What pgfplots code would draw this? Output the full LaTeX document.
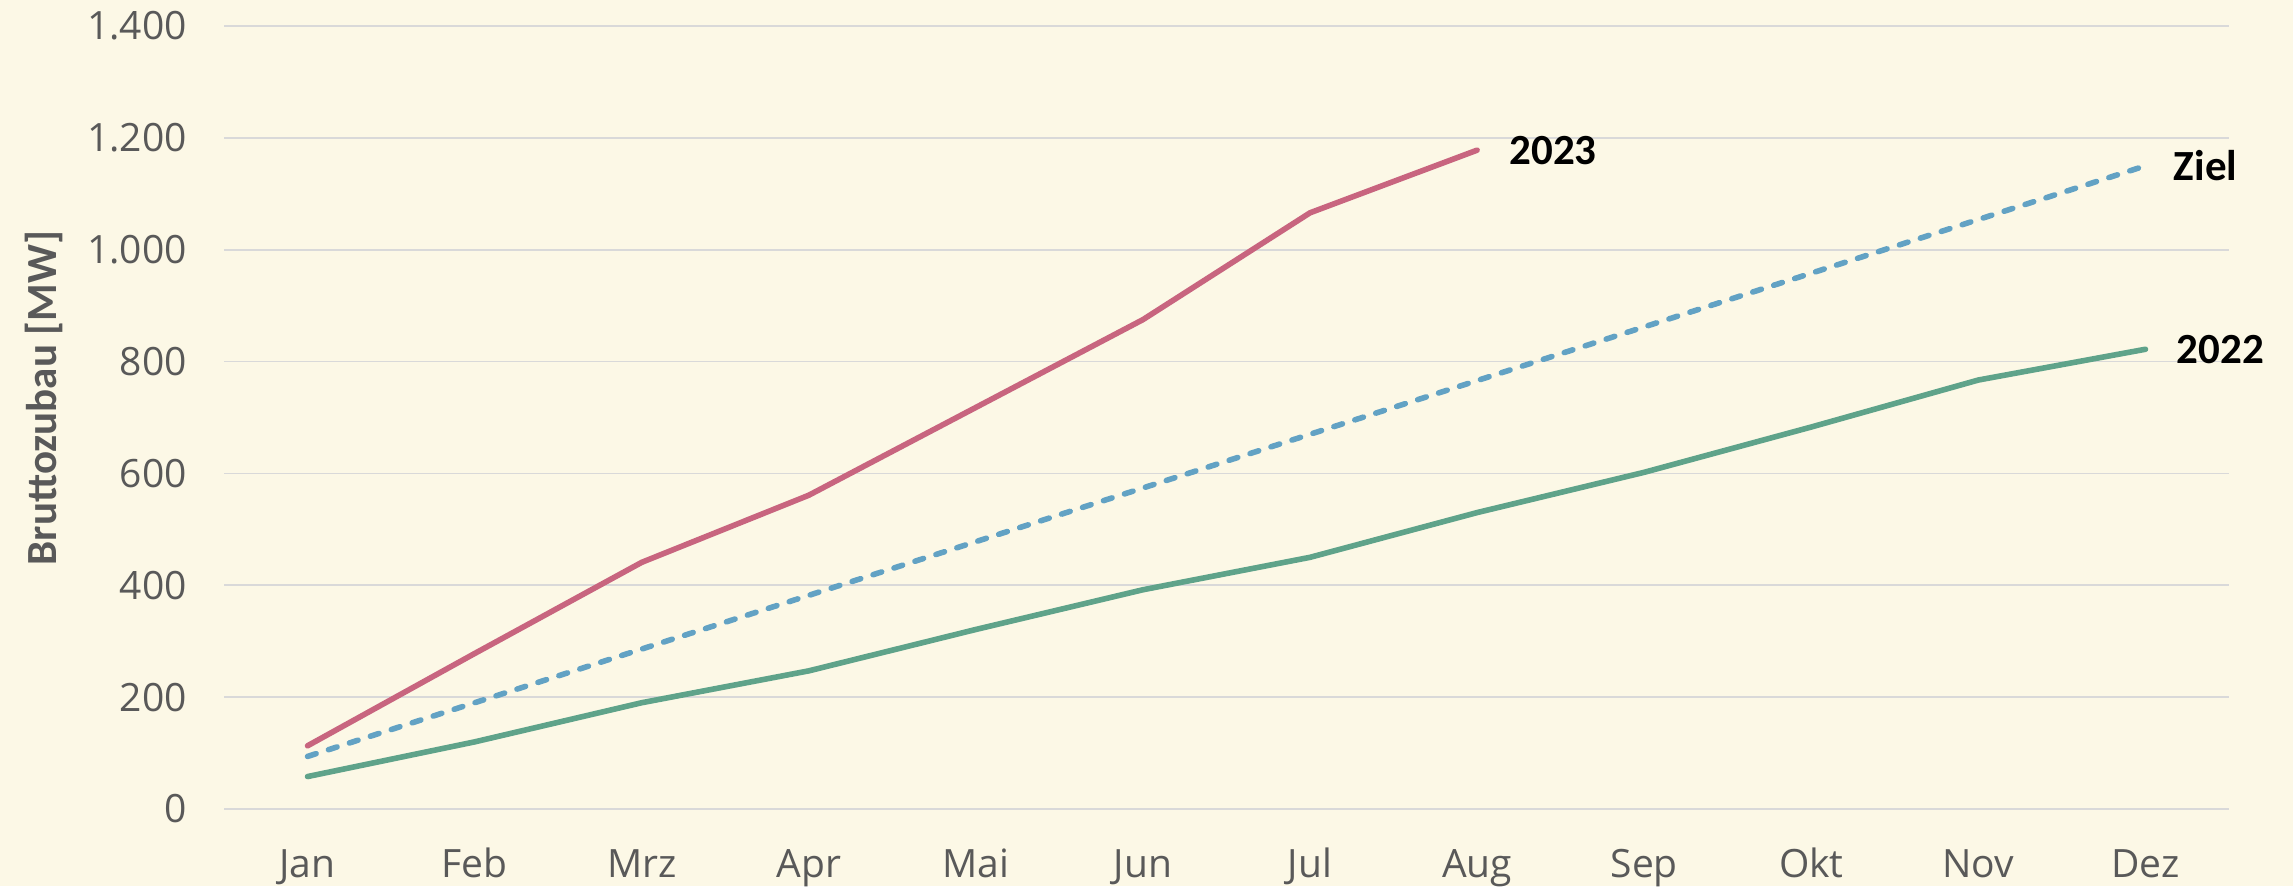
\documentclass[border=0pt]{standalone}
\usepackage{fontspec}
\setmainfont{Carlito}
\newfontfamily\tickfont{Open Sans}
\usepackage{pgfplots}
\pgfplotsset{compat=1.18}
\usetikzlibrary{backgrounds}
\definecolor{bgcol}{HTML}{FCF8E6}
\definecolor{gridcol}{HTML}{D9D9D9}
\definecolor{textgray}{HTML}{595959}
\definecolor{c23}{HTML}{C8657F}
\definecolor{cziel}{HTML}{62A2C4}
\definecolor{c22}{HTML}{5FA38A}
\begin{document}
\begin{tikzpicture}
\begin{axis}[
  scale only axis, width=1002.5pt, height=391.5pt,
  xmin=-0.5, xmax=11.5, ymin=0, ymax=1400,
  xtick={0,...,11},
  xticklabels={Jan,Feb,Mrz,Apr,Mai,Jun,Jul,Aug,Sep,Okt,Nov,Dez},
  ytick={0,200,...,1400},
  axis line style={draw=none}, tick style={draw=none},
  ymajorgrids, grid style={color=gridcol, line width=0.8pt},
  ticklabel style={font=\tickfont\fontsize{19.5}{22}\selectfont, text=textgray},
  xticklabel style={anchor=base, yshift=-34pt},
  yticklabel style={anchor=east, inner sep=0pt, xshift=-18.5pt},
  /pgf/number format/assume math mode=true,
  /pgf/number format/fixed,
  /pgf/number format/precision=0,
  /pgf/number format/1000 sep={.},
  ylabel={Bruttozubau [MW]},
  ylabel style={at={(axis description cs:0,0.525)}, anchor=center, yshift=90pt,
    font=\bfseries\fontsize{21.5}{24}\selectfont, text=textgray},
  clip=false,
]
\addplot[c22, line width=2.8pt, line cap=round, line join=round] coordinates {
 (0,58)(1,120)(2,190)(3,247)(4,321)(5,392)(6,450)(7,530)(8,602)(9,683)(10,767)(11,822)};
\addplot[cziel, line width=2.8pt, line cap=round, dash pattern=on 4.5pt off 6.5pt] coordinates {
 (0,94)(1,190)(2,286)(3,382)(4,478)(5,574)(6,670)(7,766)(8,862)(9,958)(10,1054)(11,1150)};
\addplot[c23, line width=2.8pt, line cap=round, line join=round] coordinates {
 (0,113)(1,278)(2,441)(3,561)(4,718)(5,875)(6,1066)(7,1178)};
\node[anchor=west, inner sep=0pt, xshift=16pt, font=\bfseries\fontsize{21.5}{24}\selectfont] at (axis cs:7,1178) {2023};
\node[anchor=west, inner sep=0pt, xshift=14pt, font=\bfseries\fontsize{21.5}{24}\selectfont] at (axis cs:11,1150) {Ziel};
\node[anchor=west, inner sep=0pt, xshift=15.5pt, font=\bfseries\fontsize{21.5}{24}\selectfont] at (axis cs:11,822) {2022};
\end{axis}
\begin{scope}[on background layer]
\fill[bgcol] ([xshift=-112pt,yshift=-38.5pt]current axis.south west) rectangle ([xshift=32pt,yshift=13pt]current axis.north east);
\end{scope}
\pgfresetboundingbox
\path[use as bounding box] ([xshift=-112pt,yshift=-38.5pt]current axis.south west) rectangle ([xshift=32pt,yshift=13pt]current axis.north east);
\end{tikzpicture}
\end{document}
